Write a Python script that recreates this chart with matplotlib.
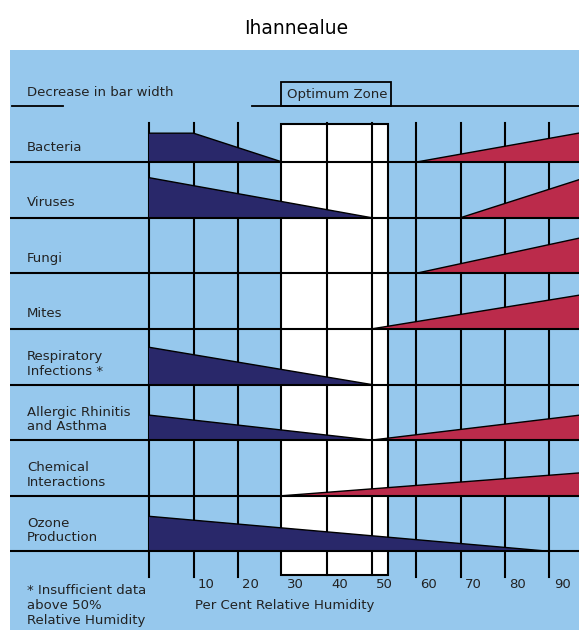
import matplotlib.pyplot as plt
from matplotlib.patches import Rectangle

# Row labels (top to bottom)
rows = ["Bacteria", "Viruses", "Fungi", "Mites",
        "Respiratory\nInfections *", "Allergic Rhinitis\nand Asthma",
        "Chemical\nInteractions", "Ozone\nProduction"]

# Decreasing (navy) bars: x in % RH, height as fraction of row
navy_x = [[0, 10, 30], [0, 50], None, None, [0, 50], [0, 50], None, [0, 90]]
navy_h = [[0.52, 0.52, 0], [0.72, 0], None, None, [0.67, 0], [0.45, 0], None, [0.63, 0]]

# Increasing (red) bars
red_x = [[60, 100], [70, 100], [60, 100], [50, 100], None, [50, 100], [30, 100], None]
red_h = [[0, 0.57], [0, 0.77], [0, 0.69], [0, 0.65], None, [0, 0.48], [0, 0.43], None]

ticks = [10, 20, 30, 40, 50, 60, 70, 80, 90]
grid_x = [0, 10, 20, 40, 50, 60, 70, 80, 90]
opt_lo, opt_hi = 29.7, 53.6

bg = '#96c8ed'
navy = '#29286a'
red = '#bb2b4b'
ink = '#222222'
fs = 9.5

fig = plt.figure(figsize=(5.79, 6.30), dpi=100)
ax = fig.add_axes([10/579, 0, 569/579, 580/630])
ax.set_facecolor(bg)
ax.set_xlim(-31.24, 96.63)
ax.set_ylim(9.415, -1.016)
ax.set_xticks([])
ax.set_yticks([])
for s in ax.spines.values():
    s.set_visible(False)

fig.text(296/579, 1 - 28/630, "Ihannealue", ha='center', va='center', fontsize=13.5)

# optimum zone white box
ax.add_patch(Rectangle((opt_lo, 0.31), opt_hi - opt_lo, 8.43 - 0.31,
                       facecolor='white', edgecolor='black', lw=1.5, zorder=1))
# vertical grid lines
for gx in grid_x:
    y1 = 8.46 if gx not in (40, 50) else 8.43
    ax.plot([gx, gx], [0.30, y1], color='black', lw=1.5, zorder=2)

# bars
for i in range(len(rows)):
    base = i + 1
    if navy_x[i] is not None:
        top = [base - h for h in navy_h[i]]
        ax.fill_between(navy_x[i], base, top, facecolor=navy, edgecolor='none', zorder=3)
        ax.plot(navy_x[i], top, color='black', lw=1, zorder=3)
    if red_x[i] is not None:
        top = [base - h for h in red_h[i]]
        ax.fill_between(red_x[i], base, top, facecolor=red, edgecolor='none', zorder=3)
        ax.plot(red_x[i], top, color='black', lw=1, zorder=3)

# row lines
for i in range(len(rows)):
    ax.plot([-31.24, 96.63], [i + 1, i + 1], color='black', lw=1.5, zorder=4)

# header
ax.plot([-30.8, -19.3], [0, 0], color='black', lw=1.3, zorder=4)
ax.plot([23.1, 96.63], [0, 0], color='black', lw=1.3, zorder=4)
ax.add_patch(Rectangle((29.7, -0.44), 54.3 - 29.7, 0.44, facecolor='none',
                       edgecolor='black', lw=1.3, zorder=4))
ax.text(-27.4, -0.26, "Decrease in bar width", fontsize=fs, color=ink, va='center')
ax.text(31.0, -0.22, "Optimum Zone", fontsize=fs, color=ink, va='center')

# row labels
for i, lab in enumerate(rows):
    yc = i + 1 - (0.37 if "\n" in lab else 0.27)
    ax.text(-27.4, yc, lab, fontsize=fs, color=ink, va='center', linespacing=1.15)

# x tick labels
for t in ticks:
    ax.text(t + 2.9, 8.59, str(t), fontsize=fs, color=ink, ha='center', va='center')
ax.text(30.6, 8.98, "Per Cent Relative Humidity", fontsize=fs, color=ink,
        ha='center', va='center')

ax.text(-27.4, 8.98, "* Insufficient data\nabove 50%\nRelative Humidity",
        fontsize=fs, color=ink, va='center', linespacing=1.2)

fig.savefig("out.png", dpi=100)
